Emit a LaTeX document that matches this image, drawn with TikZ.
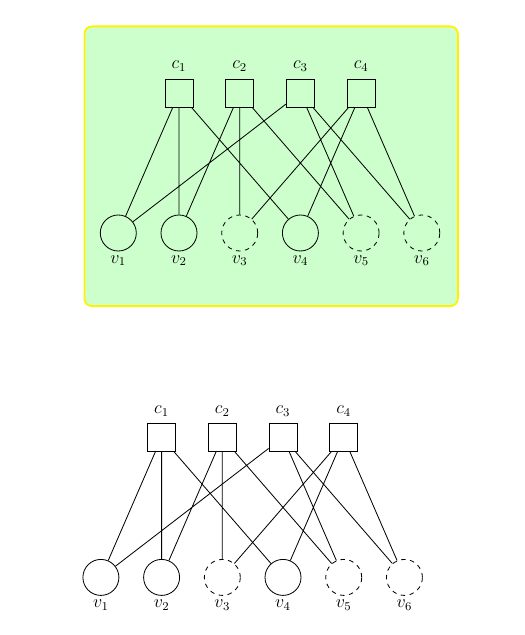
\documentclass[tikz,border=0pt]{standalone}
\begin{document}
\begin{tikzpicture}[x=0.6667pt,y=-0.6667pt,line width=0.55pt,
  every label/.style={font=\large},
  check/.style={draw,rectangle,minimum size=18.7pt,inner sep=0pt},
  var/.style={draw,circle,minimum size=24pt,inner sep=0pt},
  hid/.style={var,dashed},
  frame/.style={draw=yellow,line width=1.2pt,fill=green!20,rounded corners=5pt}]
\useasboundingbox (0,0) rectangle (524,635);
\node[frame,minimum width=249pt,minimum height=186.5pt,anchor=north west] (bg) at (83.5,25.5) {};
\foreach \p/\dx/\dy in {t-/179/93, b-/161.6/437.4}{
  \begin{scope}[shift={(\dx,\dy)},name prefix=\p]
    \node[check,label={[label distance=1pt]above:$c_1$}] (c1) at (0,0) {};
    \node[check,label={[label distance=1pt]above:$c_2$}] (c2) at (60.7,0) {};
    \node[check,label={[label distance=1pt]above:$c_3$}] (c3) at (121.4,0) {};
    \node[check,label={[label distance=1pt]above:$c_4$}] (c4) at (182.1,0) {};
    \node[var,label={[label distance=-1pt]below:$v_1$}] (v1) at (-60.7,140) {};
    \node[var,label={[label distance=-1pt]below:$v_2$}] (v2) at (0,140) {};
    \node[hid,label={[label distance=-1pt]below:$v_3$}] (v3) at (60.7,140) {};
    \node[var,label={[label distance=-1pt]below:$v_4$}] (v4) at (121.4,140) {};
    \node[hid,label={[label distance=-1pt]below:$v_5$}] (v5) at (182.1,140) {};
    \node[hid,label={[label distance=-1pt]below:$v_6$}] (v6) at (242.8,140) {};
    \draw (c1) -- (v1) (c1) -- (v2) (c1) -- (v4)
          (c2) -- (v2) (c2) -- (v3) (c2) -- (v5)
          (c3) -- (v1) (c3) -- (v5) (c3) -- (v6)
          (c4) -- (v3) (c4) -- (v4) (c4) -- (v6);
  \end{scope}
}
\end{tikzpicture}
\end{document}
